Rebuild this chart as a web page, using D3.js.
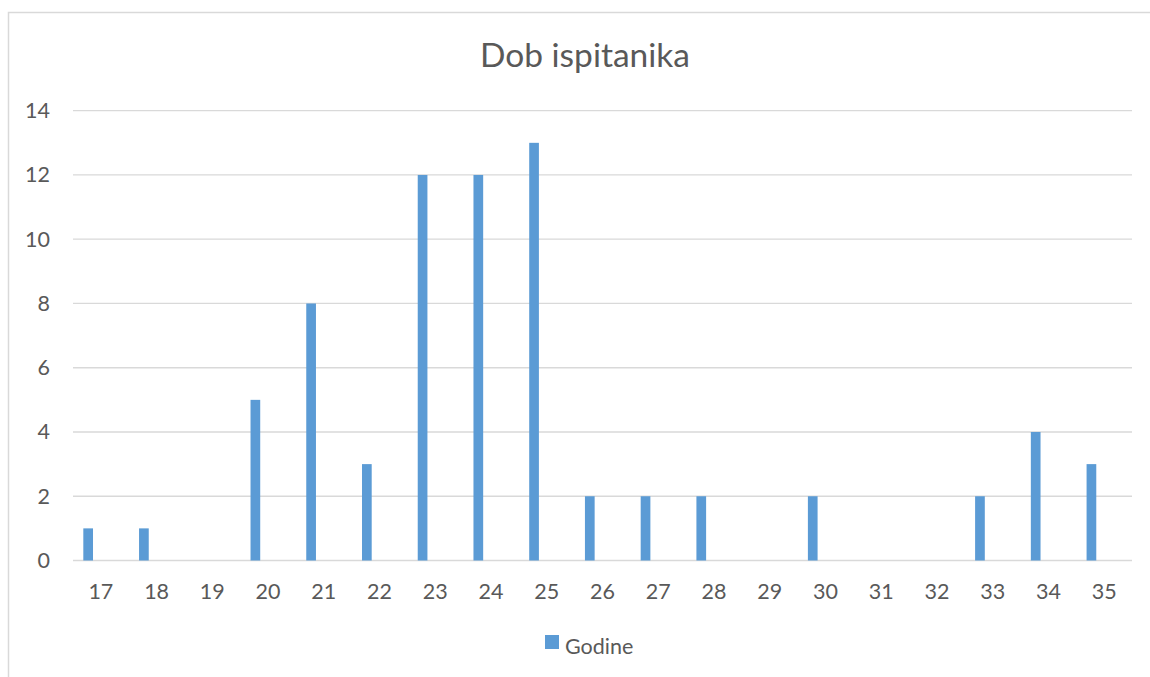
<!DOCTYPE html>
<html>
<head>
<meta charset="utf-8">
<script src="https://cdn.jsdelivr.net/npm/d3@7"></script>
<style>
  html, body { margin: 0; padding: 0; background: #fff; }
  svg { display: block; }
</style>
</head>
<body>
<div id="chart"></div>
<script>
// data
const categories = ['17', '18', '19', '20', '21', '22', '23', '24', '25', '26',
  '27', '28', '29', '30', '31', '32', '33', '34', '35'];
const values = [1, 1, 0, 5, 8, 3, 12, 12, 13, 2, 2, 2, 0, 2, 0, 0, 2, 4, 3];
const yTicks = [0, 2, 4, 6, 8, 10, 12, 14];
const seriesName = 'Godine';
const title = 'Dob ispitanika';

const width = 1150;
const height = 677;
const font = 'Lato, "Open Sans", sans-serif';
const textColor = '#595959';
const gridColor = '#d9d9d9';
const barColor = '#5b9bd5';

const plot = { left: 73, right: 1132, top: 110.7, bottom: 560.5 };

const svg = d3.select('#chart')
  .append('svg')
  .attr('width', width)
  .attr('height', height);

// chart frame (cut off on the right and bottom in the reference)
svg.append('rect')
  .attr('x', 8.5)
  .attr('y', 12.5)
  .attr('width', width + 10)
  .attr('height', height + 10)
  .attr('fill', 'none')
  .attr('stroke', gridColor)
  .attr('stroke-width', 1.5);

const x = d3.scaleBand()
  .domain(categories)
  .range([plot.left, plot.right]);

const y = d3.scaleLinear()
  .domain([0, 14])
  .range([plot.bottom, plot.top]);

// gridlines
svg.append('g')
  .selectAll('line')
  .data(yTicks)
  .enter()
  .append('line')
  .attr('x1', plot.left)
  .attr('x2', plot.right)
  .attr('y1', d => y(d))
  .attr('y2', d => y(d))
  .attr('stroke', gridColor)
  .attr('stroke-width', 1.3);

// y axis labels
const yAxis = svg.append('g')
  .attr('transform', `translate(${plot.left - 23},0)`)
  .call(d3.axisLeft(y).tickValues(yTicks).tickSize(0).tickPadding(0));
yAxis.select('.domain').remove();
yAxis.selectAll('text')
  .attr('fill', textColor)
  .style('font-family', font)
  .style('font-size', '21.5px');

// x axis labels
const xAxis = svg.append('g')
  .attr('transform', `translate(0,${plot.bottom + 23})`)
  .call(d3.axisBottom(x).tickSize(0).tickPadding(0));
xAxis.select('.domain').remove();
xAxis.selectAll('text')
  .attr('fill', textColor)
  .style('font-family', font)
  .style('font-size', '21.5px');

// bars sit left of the category centre (second series slot is empty)
const barOffset = x.bandwidth() * 0.185;
const barWidth = x.bandwidth() * 0.174;

svg.append('g')
  .selectAll('rect')
  .data(values)
  .enter()
  .append('rect')
  .attr('x', (d, i) => x(categories[i]) + barOffset)
  .attr('y', d => y(d))
  .attr('width', barWidth)
  .attr('height', d => y(0) - y(d))
  .attr('fill', barColor);

// title
svg.append('text')
  .attr('x', 585)
  .attr('y', 67.3)
  .attr('text-anchor', 'middle')
  .attr('fill', textColor)
  .style('font-family', font)
  .style('font-size', '33.5px')
  .text(title);

// legend
const legend = svg.append('g');
legend.append('rect')
  .attr('x', 545)
  .attr('y', 635)
  .attr('width', 14)
  .attr('height', 14)
  .attr('fill', barColor);
legend.append('text')
  .attr('x', 565)
  .attr('y', 653.5)
  .attr('fill', textColor)
  .style('font-family', font)
  .style('font-size', '21.5px')
  .text(seriesName);
</script>
</body>
</html>
